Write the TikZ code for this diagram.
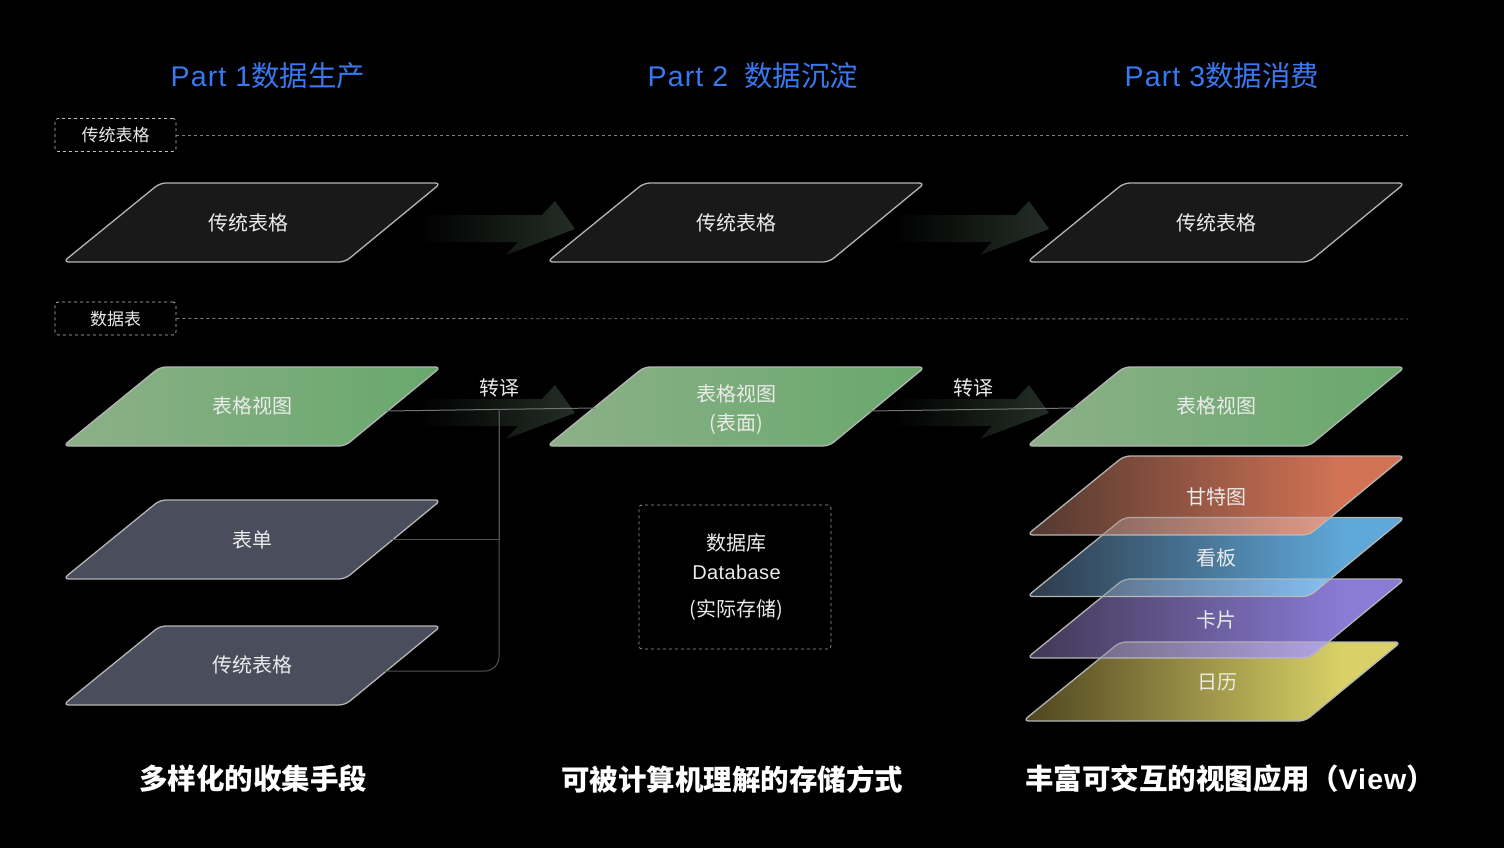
\documentclass[tikz,border=0pt]{standalone}
\usepackage{fontspec}
\setmainfont{Noto Sans CJK SC}
\newfontfamily\latin[LetterSpace=2]{Liberation Sans}
\newfontfamily\latintitle[LetterSpace=4]{Liberation Sans}
\newfontfamily\latincap[LetterSpace=4]{Liberation Sans}
\definecolor{edge}{HTML}{B4B4B4}
\definecolor{headblue}{HTML}{3A78F2}
\definecolor{arrowgreen}{HTML}{232E26}
\definecolor{viewleft}{RGB}{140,176,136}
\definecolor{viewright}{RGB}{104,168,108}
\definecolor{slatefill}{RGB}{74,78,92}
\definecolor{ganttleft}{RGB}{96,66,56}
\definecolor{ganttright}{RGB}{249,136,101}
\definecolor{boardleft}{RGB}{54,68,86}
\definecolor{boardright}{RGB}{112,198,255}
\definecolor{cardleft}{RGB}{76,66,98}
\definecolor{cardright}{RGB}{162,145,252}
\definecolor{calleft}{RGB}{92,80,38}
\definecolor{calright}{RGB}{255,245,122}
\pgfdeclarehorizontalshading{ganttfade}{100bp}{color(0bp)=(ganttleft); color(25bp)=(ganttleft); color(67bp)=(ganttright); color(100bp)=(ganttright)}
\pgfdeclarehorizontalshading{boardfade}{100bp}{color(0bp)=(boardleft); color(25bp)=(boardleft); color(67bp)=(boardright); color(100bp)=(boardright)}
\pgfdeclarehorizontalshading{cardfade}{100bp}{color(0bp)=(cardleft); color(25bp)=(cardleft); color(67bp)=(cardright); color(100bp)=(cardright)}
\pgfdeclarehorizontalshading{calfade}{100bp}{color(0bp)=(calleft); color(25bp)=(calleft); color(67bp)=(calright); color(100bp)=(calright)}
\tikzset{>=latex}
\tikzset{
    plateline/.style={draw=edge,line width=1.3pt,rounded corners=6pt},
    plain/.style={plateline,fill=black!90!white},
    viewplate/.style={plateline,left color=viewleft,right color=viewright},
    slate/.style={plateline,fill=slatefill},
    stacked/.style={plateline,shade,fill opacity=.85},
    platetext/.style={minimum width=279pt,minimum height=79pt,inner sep=0pt,outer sep=0pt,
        text=white!92!black,align=center,font=\fontsize{20}{29}\selectfont},
    overlap/.style={fill=white,fill opacity=.14,rounded corners=6pt},
    overlapedge/.style={draw=edge,line width=1.1pt,draw opacity=.8,rounded corners=6pt},
    dashbox/.style={draw=white!75!black,dashed,line width=.8pt,rounded corners=3pt,inner sep=0pt,text=white!92!black},
    tagbox/.style={dashbox,minimum width=121pt,minimum height=33pt,text height=16pt,text depth=2pt,font=\fontsize{17}{20}\selectfont},
    dbbox/.style={dashbox,minimum width=192pt,minimum height=144pt,draw=white!60!black,align=center,font=\fontsize{20}{29}\selectfont},
    rowline/.style={draw=white!50!black,dashed,line width=.8pt},
    title/.style={text=headblue,font=\fontsize{28.5}{34}\selectfont},
    caption/.style={text=white,font=\bfseries\fontsize{28.5}{34}\selectfont},
    note/.style={text=white!92!black,font=\fontsize{20}{24}\selectfont},
    link/.style={draw=white!45!black,line width=1pt},
    branch/.style={draw=white!33!black,line width=1pt,rounded corners=14pt},
    bigarrow/.style={left color=black,middle color=arrowgreen!92!black,right color=arrowgreen}
}
\newcommand{\bigarrowat}[2]{\fill[bigarrow,shift={(#1,#2)}] (418,215) -- (542,215) -- (555,201) -- (575,229) -- (506,255) -- (518,242) -- (418,242) -- cycle;}
\newcommand{\plate}[6][]{\draw[#5,shift={(#3,#4)}] (-189,39.5) -- (-92,-39.5) -- (189,-39.5) -- (93,39.5) -- cycle;
    \node[platetext,#1] (#2) at (#3,#4) {#6};}

\begin{document}
\begin{tikzpicture}[x=1pt,y=-1pt]
                \fill[black] (0,0) rectangle (1504,848);
                \useasboundingbox (0,0) rectangle (1504,848);

                \node[title] (parta) at (268,76) {{\latintitle Part 1}数据生产};
                \node[title] (partb) at (753,76) {{\latintitle Part 2}\hspace{16pt}数据沉淀};
                \node[title] (partc) at (1222,76) {{\latintitle Part 3}数据消费};

                \node[tagbox] (tagold) at (115.5,135) {传统表格};
                \node[tagbox] (tagdata) at (115.5,318.5) {数据表};
                \coordinate (oldend) at (1408,135);
                \coordinate (dataend) at (1408,319);
                \draw[rowline] (tagold) -- (oldend);
                \draw[rowline] (tagdata) -- (dataend);

                \plate{olda}{252}{222.5}{plain}{\hspace*{-8pt}传统表格}
                \plate{oldb}{736}{222.5}{plain}{传统表格}
                \plate{oldc}{1216}{222.5}{plain}{传统表格}

                \plate[yshift=1pt]{viewa}{252}{406.5}{viewplate}{表格视图}
                \plate[yshift=-3pt]{viewb}{736}{406.5}{viewplate}{表格视图\\(表面)}
                \plate[yshift=1pt]{viewc}{1216}{406.5}{viewplate}{表格视图}

                \plate{form}{252}{539.5}{slate}{表单}
                \plate[yshift=1pt]{sheet}{252}{665.5}{slate}{传统表格}

                \node[dbbox] (db) at (735,577) {\hspace*{3pt}数据库\\\hspace*{3pt}{\latin Database}\\[8pt]\hspace*{3pt}(实际存储)};

                \bigarrowat{0}{0}
                \bigarrowat{474}{0}
                \bigarrowat{0}{184}
                \bigarrowat{474}{184}

                \node[note] (transa) at (499,388) {转译};
                \node[note] (transb) at (973,388) {转译};
                \coordinate (join) at (499,409);
                \draw[link] ([shift={(-5pt,-5.5pt)}]viewa.east) -- ([shift={(-1pt,1.5pt)}]viewb.west);
                \draw[link] ([shift={(-5pt,-1.5pt)}]viewb.east) -- ([shift={(-1pt,-2.5pt)}]viewc.west);
                \draw[branch] (join) -- (form.east -| join);
                \draw[branch] (form.east) -- (form.east -| join);
                \draw[branch] ([shift={(-7pt,-6.5pt)}]sheet.east) -| (join);

                \plate[yshift=-1pt]{cal}{1212}{681.5}{stacked,shading=calfade}{\hspace*{10pt}日历}
                \plate[yshift=-1pt]{card}{1216}{618.5}{stacked,shading=cardfade}{卡片}
                \plate[yshift=-1pt]{board}{1216}{557}{stacked,shading=boardfade}{看板}
                \plate[yshift=-1pt]{gantt}{1216}{495.5}{stacked,shading=ganttfade}{甘特图}
                \fill[overlap] (1102.5,535) -- (1124,517.5) -- (1330,517.5) -- (1309,535) -- cycle;
                \fill[overlap] (1102.5,596.5) -- (1124,579) -- (1330,579) -- (1309,596.5) -- cycle;
                \fill[overlap] (1100.5,658) -- (1120,642) -- (1328.5,642) -- (1309,658) -- cycle;
                \draw[overlapedge] (1102.5,535) -- (1124,517.5) -- (1330,517.5);
                \draw[overlapedge] (1102.5,596.5) -- (1124,579) -- (1330,579);
                \draw[overlapedge] (1100.5,658) -- (1120,642) -- (1328.5,642);

                \node[caption] (capa) at (253,779) {多样化的收集手段};
                \node[caption] (capb) at (732,779) {可被计算机理解的存储方式};
                \node[caption] (capc) at (1230,779) {丰富可交互的视图应用（{\latincap\bfseries View}）};
            \end{tikzpicture}
\end{document}
